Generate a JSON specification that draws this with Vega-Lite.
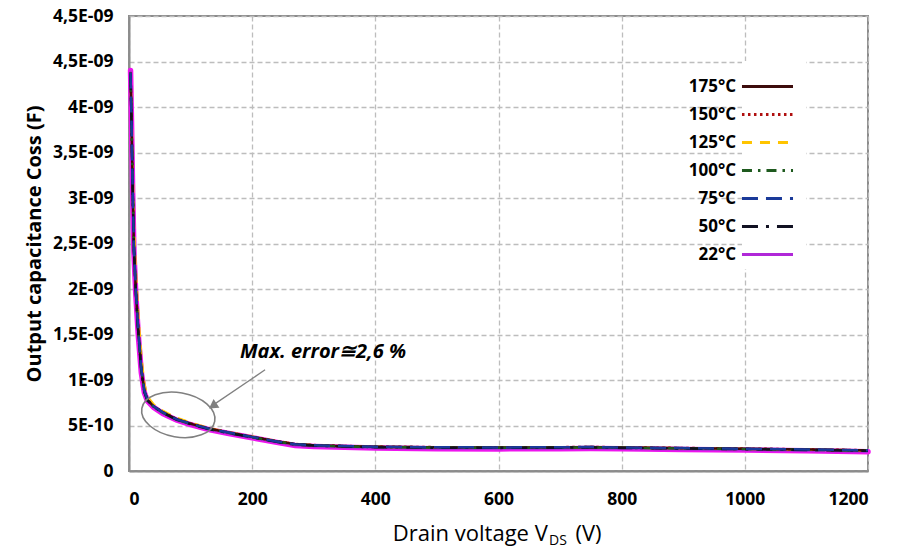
{
  "$schema": "https://vega.github.io/schema/vega-lite/v6.json",
  "width": 739,
  "height": 455,
  "autosize": "none",
  "padding": {"left": 129, "top": 16, "right": 30, "bottom": 78},
  "background": "white",
  "config": {
    "view": {"stroke": "#8c8c8c", "strokeWidth": 2},
    "font": "Open Sans",
    "axis": {
      "domainColor": "#8c8c8c", "domainWidth": 2, "ticks": false,
      "gridColor": "#bdbdbd", "gridDash": [5, 3], "gridWidth": 1.3,
      "labelFont": "Open Sans", "labelFontWeight": "bold", "labelFontSize": 17.5, "labelColor": "#000",
      "titleFont": "Open Sans", "titleColor": "#000"
    }
  },
  "layer": [
    {
      "data": {"values": [
        {"s":"22°C","v":2.5,"c":4.40e-9},{"s":"22°C","v":4,"c":3.85e-9},{"s":"22°C","v":6,"c":3.05e-9},{"s":"22°C","v":8,"c":2.40e-9},{"s":"22°C","v":11,"c":1.95e-9},{"s":"22°C","v":15,"c":1.50e-9},{"s":"22°C","v":20,"c":1.08e-9},{"s":"22°C","v":25,"c":0.86e-9},{"s":"22°C","v":30,"c":0.77e-9},{"s":"22°C","v":40,"c":0.70e-9},{"s":"22°C","v":55,"c":0.63e-9},{"s":"22°C","v":77,"c":0.56e-9},{"s":"22°C","v":100,"c":0.51e-9},{"s":"22°C","v":130,"c":0.455e-9},{"s":"22°C","v":160,"c":0.415e-9},{"s":"22°C","v":200,"c":0.365e-9},{"s":"22°C","v":240,"c":0.315e-9},{"s":"22°C","v":270,"c":0.28e-9},{"s":"22°C","v":300,"c":0.27e-9},{"s":"22°C","v":350,"c":0.26e-9},{"s":"22°C","v":400,"c":0.252e-9},{"s":"22°C","v":500,"c":0.245e-9},{"s":"22°C","v":600,"c":0.243e-9},{"s":"22°C","v":700,"c":0.245e-9},{"s":"22°C","v":750,"c":0.247e-9},{"s":"22°C","v":800,"c":0.244e-9},{"s":"22°C","v":900,"c":0.237e-9},{"s":"22°C","v":1000,"c":0.23e-9},{"s":"22°C","v":1100,"c":0.222e-9},{"s":"22°C","v":1200,"c":0.212e-9},
        {"s":"125°C","v":2.5,"c":4.35e-9},{"s":"125°C","v":4,"c":4.00e-9},{"s":"125°C","v":6,"c":3.30e-9},{"s":"125°C","v":8,"c":2.70e-9},{"s":"125°C","v":11,"c":2.20e-9},{"s":"125°C","v":15,"c":1.72e-9},{"s":"125°C","v":20,"c":1.25e-9},{"s":"125°C","v":25,"c":0.95e-9},{"s":"125°C","v":30,"c":0.82e-9},{"s":"125°C","v":40,"c":0.73e-9},{"s":"125°C","v":55,"c":0.66e-9},{"s":"125°C","v":77,"c":0.585e-9},{"s":"125°C","v":100,"c":0.53e-9},{"s":"125°C","v":130,"c":0.47e-9},{"s":"125°C","v":160,"c":0.428e-9},{"s":"125°C","v":200,"c":0.378e-9},{"s":"125°C","v":240,"c":0.328e-9},{"s":"125°C","v":270,"c":0.296e-9},{"s":"125°C","v":300,"c":0.284e-9},{"s":"125°C","v":350,"c":0.273e-9},{"s":"125°C","v":400,"c":0.266e-9},{"s":"125°C","v":500,"c":0.26e-9},{"s":"125°C","v":600,"c":0.258e-9},{"s":"125°C","v":700,"c":0.26e-9},{"s":"125°C","v":750,"c":0.262e-9},{"s":"125°C","v":800,"c":0.258e-9},{"s":"125°C","v":900,"c":0.25e-9},{"s":"125°C","v":1000,"c":0.243e-9},{"s":"125°C","v":1100,"c":0.235e-9},{"s":"125°C","v":1200,"c":0.225e-9},
        {"s":"150°C","v":2.5,"c":4.38e-9},{"s":"150°C","v":4,"c":3.90e-9},{"s":"150°C","v":6,"c":3.12e-9},{"s":"150°C","v":8,"c":2.47e-9},{"s":"150°C","v":11,"c":2.02e-9},{"s":"150°C","v":15,"c":1.56e-9},{"s":"150°C","v":20,"c":1.13e-9},{"s":"150°C","v":25,"c":0.885e-9},{"s":"150°C","v":30,"c":0.785e-9},{"s":"150°C","v":40,"c":0.712e-9},{"s":"150°C","v":55,"c":0.647e-9},{"s":"150°C","v":77,"c":0.572e-9},{"s":"150°C","v":100,"c":0.522e-9},{"s":"150°C","v":130,"c":0.467e-9},{"s":"150°C","v":160,"c":0.427e-9},{"s":"150°C","v":200,"c":0.377e-9},{"s":"150°C","v":240,"c":0.327e-9},{"s":"150°C","v":270,"c":0.297e-9},{"s":"150°C","v":300,"c":0.285e-9},{"s":"150°C","v":350,"c":0.275e-9},{"s":"150°C","v":400,"c":0.268e-9},{"s":"150°C","v":500,"c":0.262e-9},{"s":"150°C","v":600,"c":0.26e-9},{"s":"150°C","v":700,"c":0.262e-9},{"s":"150°C","v":750,"c":0.265e-9},{"s":"150°C","v":800,"c":0.26e-9},{"s":"150°C","v":900,"c":0.253e-9},{"s":"150°C","v":1000,"c":0.246e-9},{"s":"150°C","v":1100,"c":0.238e-9},{"s":"150°C","v":1200,"c":0.228e-9},
        {"s":"175°C","v":2.5,"c":4.38e-9},{"s":"175°C","v":4,"c":3.88e-9},{"s":"175°C","v":6,"c":3.10e-9},{"s":"175°C","v":8,"c":2.45e-9},{"s":"175°C","v":11,"c":2.00e-9},{"s":"175°C","v":15,"c":1.55e-9},{"s":"175°C","v":20,"c":1.12e-9},{"s":"175°C","v":25,"c":0.88e-9},{"s":"175°C","v":30,"c":0.78e-9},{"s":"175°C","v":40,"c":0.71e-9},{"s":"175°C","v":55,"c":0.645e-9},{"s":"175°C","v":77,"c":0.57e-9},{"s":"175°C","v":100,"c":0.52e-9},{"s":"175°C","v":130,"c":0.465e-9},{"s":"175°C","v":160,"c":0.425e-9},{"s":"175°C","v":200,"c":0.375e-9},{"s":"175°C","v":240,"c":0.325e-9},{"s":"175°C","v":270,"c":0.295e-9},{"s":"175°C","v":300,"c":0.283e-9},{"s":"175°C","v":350,"c":0.273e-9},{"s":"175°C","v":400,"c":0.266e-9},{"s":"175°C","v":500,"c":0.26e-9},{"s":"175°C","v":600,"c":0.258e-9},{"s":"175°C","v":700,"c":0.26e-9},{"s":"175°C","v":750,"c":0.263e-9},{"s":"175°C","v":800,"c":0.258e-9},{"s":"175°C","v":900,"c":0.251e-9},{"s":"175°C","v":1000,"c":0.244e-9},{"s":"175°C","v":1100,"c":0.236e-9},{"s":"175°C","v":1200,"c":0.226e-9},
        {"s":"100°C","v":2.5,"c":4.37e-9},{"s":"100°C","v":4,"c":3.87e-9},{"s":"100°C","v":6,"c":3.09e-9},{"s":"100°C","v":8,"c":2.44e-9},{"s":"100°C","v":11,"c":1.99e-9},{"s":"100°C","v":15,"c":1.54e-9},{"s":"100°C","v":20,"c":1.11e-9},{"s":"100°C","v":25,"c":0.875e-9},{"s":"100°C","v":30,"c":0.777e-9},{"s":"100°C","v":40,"c":0.707e-9},{"s":"100°C","v":55,"c":0.642e-9},{"s":"100°C","v":77,"c":0.567e-9},{"s":"100°C","v":100,"c":0.517e-9},{"s":"100°C","v":130,"c":0.462e-9},{"s":"100°C","v":160,"c":0.422e-9},{"s":"100°C","v":200,"c":0.372e-9},{"s":"100°C","v":240,"c":0.322e-9},{"s":"100°C","v":270,"c":0.292e-9},{"s":"100°C","v":300,"c":0.28e-9},{"s":"100°C","v":350,"c":0.27e-9},{"s":"100°C","v":400,"c":0.263e-9},{"s":"100°C","v":500,"c":0.257e-9},{"s":"100°C","v":600,"c":0.255e-9},{"s":"100°C","v":700,"c":0.257e-9},{"s":"100°C","v":750,"c":0.26e-9},{"s":"100°C","v":800,"c":0.255e-9},{"s":"100°C","v":900,"c":0.248e-9},{"s":"100°C","v":1000,"c":0.241e-9},{"s":"100°C","v":1100,"c":0.233e-9},{"s":"100°C","v":1200,"c":0.223e-9},
        {"s":"50°C","v":2.5,"c":4.36e-9},{"s":"50°C","v":4,"c":3.86e-9},{"s":"50°C","v":6,"c":3.08e-9},{"s":"50°C","v":8,"c":2.43e-9},{"s":"50°C","v":11,"c":1.98e-9},{"s":"50°C","v":15,"c":1.53e-9},{"s":"50°C","v":20,"c":1.10e-9},{"s":"50°C","v":25,"c":0.87e-9},{"s":"50°C","v":30,"c":0.775e-9},{"s":"50°C","v":40,"c":0.705e-9},{"s":"50°C","v":55,"c":0.64e-9},{"s":"50°C","v":77,"c":0.565e-9},{"s":"50°C","v":100,"c":0.515e-9},{"s":"50°C","v":130,"c":0.46e-9},{"s":"50°C","v":160,"c":0.42e-9},{"s":"50°C","v":200,"c":0.37e-9},{"s":"50°C","v":240,"c":0.32e-9},{"s":"50°C","v":270,"c":0.29e-9},{"s":"50°C","v":300,"c":0.279e-9},{"s":"50°C","v":350,"c":0.269e-9},{"s":"50°C","v":400,"c":0.262e-9},{"s":"50°C","v":500,"c":0.256e-9},{"s":"50°C","v":600,"c":0.254e-9},{"s":"50°C","v":700,"c":0.256e-9},{"s":"50°C","v":750,"c":0.259e-9},{"s":"50°C","v":800,"c":0.254e-9},{"s":"50°C","v":900,"c":0.247e-9},{"s":"50°C","v":1000,"c":0.24e-9},{"s":"50°C","v":1100,"c":0.232e-9},{"s":"50°C","v":1200,"c":0.222e-9},
        {"s":"75°C","v":2.5,"c":4.38e-9},{"s":"75°C","v":4,"c":3.88e-9},{"s":"75°C","v":6,"c":3.10e-9},{"s":"75°C","v":8,"c":2.45e-9},{"s":"75°C","v":11,"c":2.00e-9},{"s":"75°C","v":15,"c":1.55e-9},{"s":"75°C","v":20,"c":1.12e-9},{"s":"75°C","v":25,"c":0.88e-9},{"s":"75°C","v":30,"c":0.78e-9},{"s":"75°C","v":40,"c":0.71e-9},{"s":"75°C","v":55,"c":0.645e-9},{"s":"75°C","v":77,"c":0.57e-9},{"s":"75°C","v":100,"c":0.52e-9},{"s":"75°C","v":130,"c":0.465e-9},{"s":"75°C","v":160,"c":0.425e-9},{"s":"75°C","v":200,"c":0.375e-9},{"s":"75°C","v":240,"c":0.325e-9},{"s":"75°C","v":270,"c":0.295e-9},{"s":"75°C","v":300,"c":0.284e-9},{"s":"75°C","v":350,"c":0.274e-9},{"s":"75°C","v":400,"c":0.267e-9},{"s":"75°C","v":500,"c":0.261e-9},{"s":"75°C","v":600,"c":0.259e-9},{"s":"75°C","v":700,"c":0.261e-9},{"s":"75°C","v":750,"c":0.264e-9},{"s":"75°C","v":800,"c":0.259e-9},{"s":"75°C","v":900,"c":0.252e-9},{"s":"75°C","v":1000,"c":0.245e-9},{"s":"75°C","v":1100,"c":0.237e-9},{"s":"75°C","v":1200,"c":0.227e-9}
      ]},
      "layer": [
        {
          "transform": [{"filter": "datum.s == '22°C'"}],
          "mark": {"type": "line", "color": "#ee14ee", "strokeWidth": 5.5, "strokeCap": "round"},
          "encoding": {
            "x": {"field": "v", "type": "quantitative"},
            "y": {"field": "c", "type": "quantitative"}
          }
        },
        {
          "mark": {"type": "line", "strokeWidth": 2.5},
          "encoding": {
            "x": {"field": "v", "type": "quantitative",
              "scale": {"domain": [0, 1200], "nice": false},
              "axis": {"values": [0, 200, 400, 600, 800, 1000, 1200], "format": "d", "title": null, "labelPadding": 19}},
            "y": {"field": "c", "type": "quantitative",
              "scale": {"domain": [0, 5e-9], "nice": false},
              "axis": {"values": [0, 5e-10, 1e-9, 1.5e-9, 2e-9, 2.5e-9, 3e-9, 3.5e-9, 4e-9, 4.5e-9, 5e-9],
                "labelExpr": "['0','5E-10','1E-09','1,5E-09','2E-09','2,5E-09','3E-09','3,5E-09','4E-09','4,5E-09','4,5E-09'][round(datum.value*2e9)]",
                "title": "Output capacitance Coss (F)", "titleFontSize": 20, "titleFontWeight": "bold",
                "labelPadding": 16, "titlePadding": 8}},
            "color": {"field": "s", "type": "nominal",
              "scale": {"domain": ["175°C","150°C","125°C","100°C","75°C","50°C","22°C"],
                "range": ["#3d0c0c","#b01010","#ffc400","#1e5a1e","#1a3a99","#111122","#b028d8"]},
              "legend": {"title": null, "orient": "none", "legendX": 613, "legendY": 45,
                "symbolType": "M-1.45,0L1.45,0", "symbolSize": 1239, "symbolStrokeWidth": 3,
                "labelFont": "Open Sans", "labelFontWeight": "bold", "labelFontSize": 17, "labelColor": "#000",
                "labelAlign": "right", "labelOffset": -51, "rowPadding": 0, "fillColor": "white", "padding": 6}},
            "strokeDash": {"field": "s", "type": "nominal",
              "scale": {"domain": ["175°C","150°C","125°C","100°C","75°C","50°C","22°C"],
                "range": [[1,0],[2.5,3.5],[10,8],[10,6,2.5,6],[16,8],[16,8,3,8],[1,0]]},
              "legend": {"title": null}}
          }
        }
      ]
    },
    {
      "data": {"values": [{}]},
      "layer": [
        {
          "mark": {"type": "text", "text": "Max. error≅2,6 %", "font": "Open Sans", "fontWeight": "bold", "fontStyle": "italic", "fontSize": 20, "align": "center", "baseline": "middle", "color": "#000"},
          "encoding": {"x": {"datum": 315}, "y": {"datum": 1.31e-9}}
        },
        {
          "mark": {"type": "point", "shape": "M-1,0A1,0.6,0,1,0,1,0A1,0.6,0,1,0,-1,0Z", "size": 5476, "angle": 10, "filled": false, "stroke": "#808080", "strokeWidth": 1.6, "opacity": 1},
          "encoding": {"x": {"datum": 80}, "y": {"datum": 0.617e-9}}
        },
        {
          "mark": {"type": "rule", "stroke": "#808080", "strokeWidth": 1.3},
          "encoding": {"x": {"datum": 221}, "y": {"datum": 1.112e-9}, "x2": {"datum": 140}, "y2": {"datum": 0.74e-9}}
        },
        {
          "mark": {"type": "point", "shape": "triangle-up", "size": 110, "angle": 236, "filled": true, "fill": "#808080", "stroke": null, "opacity": 1},
          "encoding": {"x": {"datum": 136}, "y": {"datum": 0.715e-9}}
        },
        {
          "mark": {"type": "text", "text": "Drain voltage V", "font": "Open Sans", "fontSize": 22, "align": "right", "baseline": "alphabetic", "color": "#000"},
          "encoding": {"x": {"datum": 680}, "y": {"datum": -0.765e-9}}
        },
        {
          "mark": {"type": "text", "text": "DS", "font": "Open Sans", "fontSize": 14, "align": "left", "baseline": "alphabetic", "color": "#000"},
          "encoding": {"x": {"datum": 682}, "y": {"datum": -0.815e-9}}
        },
        {
          "mark": {"type": "text", "text": "(V)", "font": "Open Sans", "fontSize": 22, "align": "left", "baseline": "alphabetic", "color": "#000"},
          "encoding": {"x": {"datum": 725}, "y": {"datum": -0.765e-9}}
        }
      ]
    }
  ]
}
